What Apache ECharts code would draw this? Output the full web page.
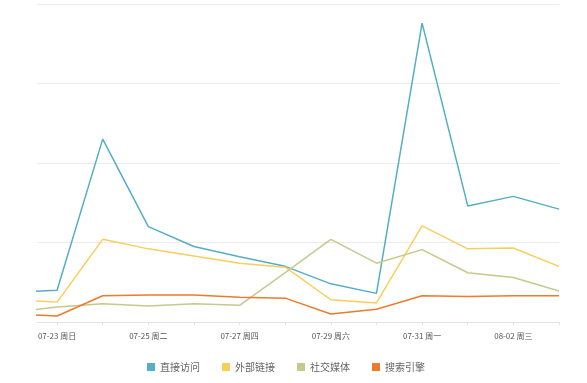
<!DOCTYPE html>
<html>
<head>
<meta charset="utf-8">
<script src="https://cdn.jsdelivr.net/npm/echarts@6/dist/echarts.min.js"></script>
<style>
html,body{margin:0;padding:0;background:#fff;}
#chart{width:587px;height:383px;}
</style>
</head>
<body>
<div id="chart"></div>
<script>
// Categories (first one lies partly outside the visible window)
var categories = ['07-22 周六','07-23 周日','07-24 周一','07-25 周二','07-26 周三','07-27 周四','07-28 周五','07-29 周六','07-30 周日','07-31 周一','08-01 周二','08-02 周三','08-03 周四'];
var seriesNames = ['直接访问','外部链接','社交媒体','搜索引擎'];
var direct  = [37, 40, 230, 120, 95, 82, 70, 48, 36, 376, 146, 158, 142];
var external = [28, 25, 104, 92, 83, 74, 69, 28, 24, 121, 92, 93, 70];
var social  = [12, 19, 23, 20, 23, 21, 62, 104, 74, 91, 62, 56, 39];
var search  = [10, 7.5, 33, 34, 34, 31, 30, 10, 16, 33, 32, 33, 33];
var labelIdx = [1, 3, 5, 7, 9, 11];

var colors = ['#55aec4','#f7cf5a','#c5c98c','#ee7a2b'];
var values = [direct, external, social, search];
function toPairs(arr){ return arr.map(function(v,i){ return [i - 1, v]; }); }

var chart = echarts.init(document.getElementById('chart'));
chart.setOption({
  animation: false,
  color: colors,
  textStyle: { fontFamily: 'Noto Sans CJK SC, sans-serif' },
  grid: { left: 37, right: 28, top: 4, bottom: 61, containLabel: false },
  legend: {
    bottom: 6, left: 142,
    icon: 'rect', itemWidth: 8, itemHeight: 8, itemGap: 22,
    textStyle: { color: '#666', fontSize: 10 },
    data: seriesNames
  },
  xAxis: {
    type: 'value', min: -0.44, max: 11,
    axisLine: { lineStyle: { color: '#e3e3e3' } },
    axisTick: { show: true, length: 3, lineStyle: { color: '#e3e3e3' },
      customValues: categories.map(function(c,i){ return i - 1; }).filter(function(v){ return v >= 0; }) },
    axisLabel: { color: '#555', fontSize: 8, margin: 10,
      customValues: labelIdx.map(function(i){ return i - 1; }),
      formatter: function(v){ return categories[Math.round(v) + 1]; } },
    splitLine: { show: false }
  },
  yAxis: {
    type: 'value', min: 0, max: 400, interval: 100,
    axisLine: { show: false }, axisTick: { show: false }, axisLabel: { show: false },
    splitLine: { lineStyle: { color: '#ececec', width: 1 } }
  },
  series: seriesNames.map(function(n, k){
    return { name: n, type: 'line', showSymbol: false, symbol: 'none',
      lineStyle: { width: 1.5 }, data: toPairs(values[k]) };
  })
});
</script>
</body>
</html>
